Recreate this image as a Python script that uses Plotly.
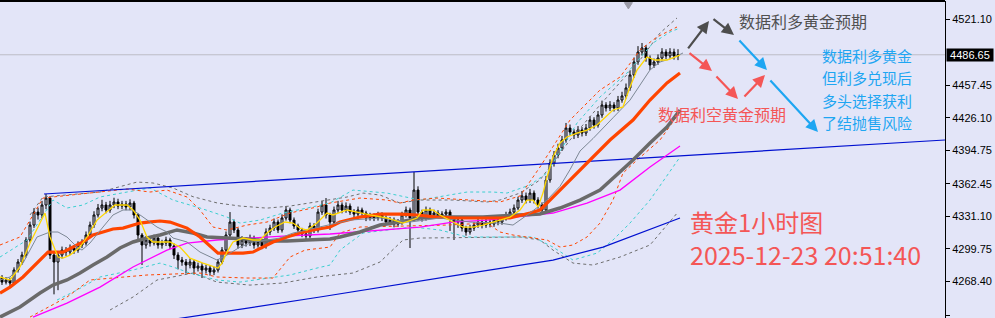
import plotly.graph_objects as go

# ---------------- data (hourly gold candles) ----------------
opens = [4272.0,4267.8,4269.8,4266.9,4279.4,4287.1,4293.8,4308.3,4322.7,4335.2,
         4332.4,4342.0,4348.7,4293.8,4287.1,4293.8,4298.6,4296.7,4300.6,4298.6,
         4303.5,4305.4,4313.1,4322.7,4332.4,4339.1,4342.0,4337.2,4342.0,4344.9,
         4341.0,4342.9,4340.1,4343.9,4332.4,4313.1,4303.5,4308.3,4305.4,4310.2,
         4303.5,4305.4,4308.3,4302.5,4293.8,4289.0,4287.1,4284.2,4287.1,4281.3,
         4283.2,4279.4,4281.3,4277.5,4279.4,4287.1,4298.6,4313.1,4325.6,4317.9,
         4303.5,4308.3,4305.4,4310.2,4303.5,4306.4,4302.5,4316.0,4319.8,4325.6,
         4317.9,4329.5,4337.2,4327.5,4321.8,4317.9,4314.1,4312.1,4321.8,4317.9,
         4335.2,4342.0,4332.4,4325.6,4337.2,4342.0,4337.2,4341.0,4335.2,4333.3,
         4337.2,4334.3,4329.5,4331.4,4329.5,4332.4,4329.5,4325.6,4327.5,4323.7,
         4325.6,4332.4,4337.2,4329.5,4356.4,4335.2,4329.5,4337.2,4332.4,4334.3,
         4331.4,4333.3,4335.2,4329.5,4325.6,4327.5,4319.8,4316.0,4319.8,4322.7,
         4325.6,4322.7,4325.6,4323.7,4327.5,4325.6,4329.5,4332.4,4335.2,4339.1,
         4346.8,4350.7,4346.8,4353.5,4346.8,4342.0,4337.2,4366.1,4382.4,4390.1,
         4396.9,4404.6,4416.1,4412.3,4409.4,4414.2,4411.3,4416.1,4423.8,4419.0,
         4428.7,4438.3,4435.4,4438.3,4435.4,4443.1,4447.0,4454.7,4467.2,4479.7,
         4489.3,4493.2,4483.5,4476.8,4479.7,4483.5,4489.3,4485.5,4489.3,4485.5]
closes = [4267.8,4269.8,4266.9,4279.4,4287.1,4293.8,4308.3,4322.7,4335.2,4332.4,
          4342.0,4348.7,4293.8,4287.1,4293.8,4298.6,4296.7,4300.6,4298.6,4303.5,
          4305.4,4313.1,4322.7,4332.4,4339.1,4342.0,4337.2,4342.0,4344.9,4341.0,
          4342.9,4340.1,4343.9,4332.4,4313.1,4303.5,4308.3,4305.4,4310.2,4303.5,
          4305.4,4308.3,4302.5,4293.8,4289.0,4287.1,4284.2,4287.1,4281.3,4283.2,
          4279.4,4281.3,4277.5,4279.4,4287.1,4298.6,4313.1,4325.6,4317.9,4303.5,
          4308.3,4305.4,4310.2,4303.5,4306.4,4302.5,4316.0,4319.8,4325.6,4317.9,
          4329.5,4337.2,4327.5,4321.8,4317.9,4314.1,4312.1,4321.8,4317.9,4335.2,
          4342.0,4332.4,4325.6,4337.2,4342.0,4337.2,4341.0,4335.2,4333.3,4337.2,
          4334.3,4329.5,4331.4,4329.5,4332.4,4329.5,4325.6,4327.5,4323.7,4325.6,
          4332.4,4337.2,4329.5,4356.4,4335.2,4329.5,4337.2,4332.4,4334.3,4331.4,
          4333.3,4335.2,4329.5,4325.6,4327.5,4319.8,4316.0,4319.8,4322.7,4325.6,
          4322.7,4325.6,4323.7,4327.5,4325.6,4329.5,4332.4,4335.2,4339.1,4346.8,
          4350.7,4346.8,4353.5,4346.8,4342.0,4337.2,4366.1,4382.4,4390.1,4396.9,
          4404.6,4416.1,4412.3,4409.4,4414.2,4411.3,4416.1,4423.8,4419.0,4428.7,
          4438.3,4435.4,4438.3,4435.4,4443.1,4447.0,4454.7,4467.2,4479.7,4489.3,
          4493.2,4483.5,4476.8,4479.7,4483.5,4489.3,4485.5,4489.3,4485.5,4486.65]
highs = [4274.5,4272.5,4272.0,4282.0,4290.0,4297.0,4311.0,4326.0,4339.0,4339.5,
         4346.0,4352.6,4350.5,4297.0,4297.0,4302.0,4301.5,4304.0,4303.5,4307.0,
         4309.0,4316.5,4326.0,4336.0,4343.0,4347.0,4345.0,4346.0,4349.0,4348.0,
         4346.0,4346.0,4347.5,4346.0,4334.0,4315.0,4312.0,4311.0,4313.5,4312.5,
         4308.5,4311.5,4310.5,4305.0,4296.5,4292.0,4290.0,4290.5,4289.5,4286.5,
         4286.0,4284.5,4284.0,4282.5,4290.0,4301.5,4316.5,4335.2,4328.0,4320.0,
         4312.0,4311.0,4313.5,4312.5,4309.5,4308.5,4319.5,4323.0,4329.0,4328.0,
         4333.0,4341.0,4339.5,4330.0,4324.0,4320.0,4317.0,4325.0,4324.5,4338.5,
         4346.0,4348.7,4334.5,4340.5,4346.0,4344.5,4344.5,4343.5,4338.0,4340.5,
         4339.5,4336.5,4334.5,4334.0,4335.5,4335.0,4332.0,4330.5,4330.0,4328.5,
         4335.5,4340.5,4339.5,4373.8,4360.0,4337.5,4340.5,4339.5,4337.5,4337.0,
         4336.0,4338.0,4337.5,4331.5,4330.5,4330.0,4322.0,4323.0,4325.5,4328.5,
         4328.0,4328.5,4328.0,4330.5,4330.0,4332.5,4335.5,4338.5,4342.5,4350.0,
         4355.5,4354.0,4357.5,4356.0,4349.5,4344.5,4370.0,4386.0,4394.0,4401.0,
         4408.5,4421.0,4419.5,4415.0,4418.0,4417.0,4420.0,4427.5,4426.5,4432.5,
         4442.5,4441.0,4442.0,4441.0,4447.0,4451.0,4459.0,4471.5,4484.0,4495.0,
         4498.0,4496.0,4486.0,4483.0,4487.0,4493.0,4492.0,4493.0,4492.5,4492.0]
lows = [4265.0,4265.5,4263.5,4265.0,4277.0,4284.5,4291.5,4306.0,4320.0,4328.0,
        4329.0,4338.0,4290.0,4256.0,4260.0,4290.5,4293.0,4294.0,4295.0,4296.0,
        4300.5,4303.0,4311.0,4320.0,4330.0,4336.0,4334.0,4334.5,4339.0,4338.0,
        4338.0,4337.0,4337.0,4329.0,4308.0,4284.2,4300.0,4302.0,4303.0,4300.0,
        4300.0,4302.5,4299.5,4290.0,4280.0,4283.5,4276.0,4281.0,4275.0,4278.0,
        4271.7,4276.0,4274.0,4274.5,4277.0,4285.0,4296.0,4311.0,4315.0,4300.0,
        4300.5,4302.0,4302.5,4300.0,4301.0,4299.5,4300.0,4313.0,4317.0,4315.0,
        4315.5,4327.0,4324.5,4319.0,4315.0,4311.0,4309.0,4310.0,4315.0,4315.5,
        4332.5,4329.0,4318.0,4323.0,4334.5,4334.0,4334.5,4332.5,4330.5,4331.0,
        4331.5,4326.5,4327.0,4326.5,4327.0,4326.5,4322.5,4322.5,4320.5,4321.0,
        4323.0,4330.0,4300.6,4327.0,4327.0,4326.0,4327.0,4329.5,4329.5,4328.5,
        4328.5,4330.5,4317.0,4308.3,4320.0,4316.5,4312.5,4313.5,4317.0,4320.0,
        4319.5,4320.0,4320.5,4321.0,4322.5,4323.0,4327.0,4330.0,4333.0,4337.0,
        4344.0,4343.5,4344.0,4343.5,4338.5,4333.5,4335.0,4363.5,4379.0,4387.0,
        4394.0,4402.0,4409.0,4405.5,4406.5,4408.0,4408.5,4413.5,4415.5,4416.5,
        4426.0,4432.0,4432.5,4432.0,4432.5,4440.5,4444.5,4452.0,4464.5,4477.0,
        4486.0,4480.0,4472.0,4474.0,4477.0,4481.0,4482.5,4483.0,4482.0,4481.5]
bars = list(range(len(closes)))
last_price = 4486.65

# fast MA (yellow)
ma_fast_x = [-0.5,2,4.5,7,9.5,10.75,12,14,15.25,17,19.5,21.25,23.75,26.25,28.25,31.25,32.75,34.5,36.25,37.75,
             40.25,42,44.5,47,50.25,54,55,56.25,57.75,60.25,62.75,64.5,66.25,68.25,70.75,72.75,74.5,76.25,78.75,81.25,
             82.75,86.25,88.75,92,96.25,100.25,103.75,105.25,107.75,109.5,112.75,115.25,117.75,120.25,124.5,127,129.5,131.25,132.75,134,
             135.25,136.25,137.75,139.5,141.25,143.75,146.25,148.75,152.75,155.25,157,158.75,161.25,163.25,166.25,167.75,169.5]
ma_fast_y = [4272.7,4269.8,4282.3,4305.4,4324.6,4334.3,4311.2,4291.9,4290.9,4293.8,4301.5,4311.2,4327.5,4335.2,4342.0,4342.0,4337.2,4327.5,4311.2,4306.4,
             4306.4,4306.4,4301.5,4290.9,4286.1,4281.3,4286.1,4296.7,4306.4,4310.2,4308.3,4308.3,4315.0,4320.8,4325.6,4324.6,4319.8,4317.9,4324.6,4334.3,
             4332.4,4337.2,4335.2,4332.4,4329.5,4324.6,4329.5,4337.2,4337.2,4332.4,4325.6,4320.8,4320.8,4322.7,4327.5,4330.4,4337.2,4346.8,4346.8,4340.1,
             4353.5,4369.0,4388.2,4401.7,4407.5,4411.3,4414.2,4419.0,4433.5,4436.4,4455.6,4472.0,4484.5,4481.6,4481.6,4483.6,4486.4]
# thin grey MA
ma_mid_x = [-0.5,2,5.25,8.75,12,14,16.25,18.75,20,22,25.25,27.75,30.25,32.75,35.25,38.75,41.25,42.75,46.25,49.5,
            53.75,56.25,59.5,62.75,66.25,69.5,72.75,76.25,79.5,82,87,94.5,102,109.5,117,124.5,127.75,132,136.25,139.5,
            142,144.5,147.75,152.75,157,159.5,162,164.5,167.75,170.25]
ma_mid_y = [4269.8,4272.7,4286.1,4311.2,4316.0,4316.0,4311.2,4301.5,4298.6,4305.4,4320.8,4332.4,4337.2,4337.2,4330.4,4320.8,4316.0,4310.2,4306.4,4296.7,
            4289.0,4293.8,4301.5,4306.4,4308.3,4310.2,4315.0,4317.9,4320.8,4322.7,4327.5,4329.5,4325.6,4329.5,4325.6,4324.6,4322.7,4334.3,4346.8,4360.0,
            4376.0,4394.0,4406.0,4426.0,4443.0,4457.5,4472.0,4479.7,4483.6,4488.4]
# thick orange-red MA
ma_red_x = [-0.5,2,5.25,7.75,10.25,11.5,15.25,17.75,20.25,22.75,25.25,27.75,30.25,32.75,34.5,36.5,39.5,42,46.25,49.5,
            52.75,54,57,60.25,62.75,65.25,67.75,71.25,74.5,77.75,82,84.5,89.5,94.5,99.5,103.75,108.75,113.75,118.75,124.5,
            127,132,134.5,137,139.5,142,144.5,147,149.5,152,157.75,162,166.25,169.5]
ma_red_y = [4257.2,4263.0,4272.7,4282.3,4291.9,4296.7,4296.7,4301.5,4306.4,4313.1,4316.0,4318.9,4319.8,4322.7,4324.6,4325.6,4326.6,4325.6,4319.8,4311.2,
            4300.6,4295.7,4295.7,4295.7,4296.7,4301.5,4306.4,4311.2,4315.0,4317.9,4320.8,4325.6,4330.4,4333.3,4333.3,4332.4,4330.4,4329.5,4329.5,4329.5,
            4329.5,4334.3,4337.2,4346.8,4356.4,4366.1,4375.7,4385.3,4395.0,4404.6,4423.8,4443.1,4459.5,4469.1]
# thick grey MA
ma_grey_x = [-0.5,4.5,9.5,12.75,16.25,19.5,22.75,26.25,29.5,32.75,36.25,39.5,43.75,47.75,51.25,56.25,61.25,66.25,71.25,76.25,
             82,84.5,89.5,94.5,99.5,104.5,109.5,114.5,120.25,124.5,129.5,134.5,139.5,144.5,149.5,157.75,162,166.25,169.5]
ma_grey_y = [4234.1,4243.8,4257.2,4264.9,4269.8,4276.5,4284.2,4291.9,4300.6,4306.4,4310.2,4313.1,4318.0,4315.0,4311.2,4310.2,4309.2,4307.3,4307.3,4308.3,
             4309.2,4311.2,4316.0,4322.7,4325.6,4329.5,4330.4,4330.4,4330.4,4331.4,4332.4,4333.3,4339.1,4346.8,4356.4,4385.3,4401.7,4417.1,4433.5]
# magenta MA
ma_pink_x = [7.75,16.25,24.5,32.75,41.25,46.25,53.75,61.25,70.25,82,96.25,104.5,112.75,121.25,126.25,133.75,137.75,146.25,154.5,162,169.5]
ma_pink_y = [4234.1,4247.6,4263.0,4282.3,4298.6,4305.4,4308.3,4310.2,4312.1,4314.1,4317.9,4320.8,4325.6,4327.5,4329.5,4332.4,4334.3,4343.9,4356.4,4378.6,4398.8]

# envelope bands (dashed)
band_red_up_x = [-0.5,4.5,10.25,24.5,31.25,37,41.25,46.25,49.5,52.75,56.25,61.25,66.25,72,78.75,82,89.5,96.25,99.5,102.75,
                 108.75,117,124.5,129.5,134.5,142,149.5,154.5,159.5,163.75,168.75]
band_red_up_y = [4303.5,4311.2,4348.7,4354.5,4357.4,4354.5,4356.4,4349.7,4337.2,4320.8,4317.9,4322.7,4325.6,4334.3,4340.1,4343.9,4348.7,4346.8,4343.9,4346.8,
                 4348.7,4346.8,4344.9,4350.7,4378.6,4423.8,4452.7,4465.2,4491.3,4503.8,4513.4]
band_cyan_up_x = [-0.5,6.25,12.75,16.25,20.25,24.5,31.25,37,42.75,49.5,56.25,59.5,64.5,70.25,76.25,82,87.75,96.25,104.5,116.25,
                  122.75,126.25,132,136.25,143.75,149.5,156.25,162.75,167,169.5]
band_cyan_up_y = [4291.9,4308.3,4346.8,4339.1,4342.0,4349.7,4354.5,4358.4,4346.8,4339.1,4330.4,4324.6,4327.5,4334.3,4339.1,4343.9,4356.4,4353.5,4346.8,4354.5,
                  4354.5,4353.5,4361.3,4372.8,4420.9,4446.0,4469.1,4498.0,4508.6,4512.4]
band_grey_up_x = [7,10.25,24.5,33.75,37.75,42.75,47.75,53.75,59.5,66.25,72,78.75,86.25,90.25,94.5,99.5,104.5,112.75,121.25,124.5,
                  129.5,134.5,142,149.5,152.75,159.5,164.5,168.75]
band_grey_up_y = [4332.4,4349.7,4354.5,4364.1,4363.2,4358.4,4350.0,4344.0,4341.0,4339.0,4341.0,4344.9,4349.7,4353.5,4351.6,4343.9,4346.8,4346.8,4344.9,4346.8,
                  4353.5,4366.1,4404.6,4438.3,4452.7,4481.6,4507.6,4522.1]
band_red_dn_x = [7,16.25,22,36.25,49.5,53.75,61.25,67.75,72,75.75,82,84.5,89.5,111.25,121.25,124.5,127.75,132.75,136.25,139.5,
                 142.75,146.25,149.5,152.75,155.25,158.75,164.5,169.5]
band_red_dn_y = [4234.1,4253.4,4269.8,4274.6,4276.5,4272.7,4271.7,4271.7,4291.9,4298.6,4301.5,4315.0,4320.8,4322.7,4324.6,4316.0,4313.1,4310.2,4308.3,4301.5,
                 4303.5,4311.2,4324.6,4346.8,4372.8,4385.3,4404.6,4431.6]
band_cyan_dn_x = [13.75,18.75,24.5,32.75,39.5,42.75,47,53.75,59.5,66.25,72,78.75,82,84.5,90.25,96.25,102.75,109.5,116.25,132.75,
                  137.75,142.75,148.75,152.75,157,162,169.5]
band_cyan_dn_y = [4250.5,4260.1,4272.7,4279.4,4286.1,4282.3,4276.5,4269.8,4267.8,4271.7,4274.6,4281.3,4284.2,4298.6,4315.0,4317.9,4320.8,4317.9,4311.2,4311.2,
                  4301.5,4289.0,4295.7,4308.3,4324.6,4346.8,4388.2]
band_grey_dn_x = [27,32.75,38.75,47.75,53.75,62,70.25,78.75,87.75,94.5,100.25,104.5,129.5,134.5,137.75,142.75,147.75,154.5,162,169]
band_grey_dn_y = [4240.9,4253.4,4269.8,4276.5,4267.8,4264.9,4266.9,4272.7,4276.5,4287.1,4308.3,4310.2,4311.2,4308.3,4298.6,4286.1,4284.2,4291.9,4303.5,4335.2]

# trend lines (blue)
trend_up_x = [10.5, 235.75]
trend_up_y = [4352.6, 4404.6]
trend_dn_x = [43, 79.5, 117, 137.75, 150.25, 159.5, 169.5]
trend_dn_y = [4232.0, 4253.4, 4276.5, 4289.0, 4301.5, 4315.0, 4329.5]

# axis ticks
tick_vals = [4521.10, 4457.45, 4426.10, 4394.75, 4362.45, 4331.10, 4299.75, 4268.40, 4236.10]
tick_text = ["%.2f" % v for v in tick_vals]

# annotation arrows: (head_x, head_y, tail_x, tail_y)
arrows_grey = [(176.75, 4519.2, 171.25, 4491.3), (183.0, 4505.7, 177.5, 4522.1)]
arrows_blue = [(191.25, 4472.0, 184.0, 4501.8), (204.0, 4412.3, 191.75, 4463.3)]
arrows_red = [(177.5, 4471.0, 171.5, 4489.3), (184.0, 4444.1, 178.25, 4467.2), (190.75, 4467.2, 185.25, 4445.0)]

blue_note = ["数据利多黄金", "但利多兑现后", "多头选择获利", "了结抛售风险"]
blue_note_y = [4485.5, 4464.3, 4443.1, 4421.9]

# ---------------- figure ----------------
BG = "#E3E5F8"
CJK = "Noto Sans CJK SC"

fig = go.Figure()
DASH = "3px,3px"

def add_line(x, y, color, width, dash=None):
    fig.add_trace(go.Scatter(x=x, y=y, mode="lines", hoverinfo="skip",
                             line=dict(color=color, width=width, dash=dash),
                             showlegend=False))

# bands
add_line(band_grey_up_x, band_grey_up_y, "#6E6E6E", 1, DASH)
add_line(band_grey_dn_x, band_grey_dn_y, "#6E6E6E", 1, DASH)
add_line(band_cyan_up_x, band_cyan_up_y, "#3CCFD0", 1, DASH)
add_line(band_cyan_dn_x, band_cyan_dn_y, "#3CCFD0", 1, DASH)
add_line(band_red_up_x, band_red_up_y, "#FF4500", 1, DASH)
add_line(band_red_dn_x, band_red_dn_y, "#FF4500", 1, DASH)

fig.add_trace(go.Candlestick(
    x=bars, open=opens, high=highs, low=lows, close=closes,
    increasing=dict(line=dict(color="#000000", width=1), fillcolor=BG),
    decreasing=dict(line=dict(color="#000000", width=1), fillcolor="#000000"),
    whiskerwidth=0, hoverinfo="skip", showlegend=False))

add_line(trend_up_x, trend_up_y, "#0010D0", 1.2)
add_line(trend_dn_x, trend_dn_y, "#0010D0", 1.2)
add_line(ma_pink_x, ma_pink_y, "#FF00FF", 1.3)
add_line(ma_grey_x, ma_grey_y, "#6A6A6A", 3.5)
add_line(ma_red_x, ma_red_y, "#FF4500", 3.2)
add_line(ma_mid_x, ma_mid_y, "#7D8895", 1)
add_line(ma_fast_x, ma_fast_y, "#FFD700", 1.3)

annotations = []
for group, col in ((arrows_grey, "#4D4D4D"), (arrows_blue, "#1EA6F2"), (arrows_red, "#F45656")):
    for hx, hy, tx, ty in group:
        annotations.append(dict(x=hx, y=hy, ax=tx, ay=ty, xref="x", yref="y", axref="x", ayref="y",
                                showarrow=True, arrowhead=2, arrowsize=1.1, arrowwidth=2.2,
                                arrowcolor=col, text=""))

def label(text, x, y, color, size):
    annotations.append(dict(text=text, x=x, y=y, xref="x", yref="y", xanchor="left",
                            yanchor="middle", showarrow=False, align="left",
                            font=dict(family=CJK, size=size, color=color)))

label("数据利多黄金预期", 183.75, 4518.7, "#505050", 16)
for t, yv in zip(blue_note, blue_note_y):
    label(t, 204.5, yv, "#1EA6F2", 15)
label("数据利空黄金预期", 163.5, 4429.6, "#F45656", 16)
label("黄金1小时图", 171.5, 4326.6, "#F45656", 24)
label("2025-12-23 20:51:40", 171.5, 4294.8, "#F45656", 25)

annotations.append(dict(text=" %.2f " % last_price, x=1, y=last_price, xref="paper", yref="y",
                        xanchor="left", yanchor="middle", xshift=1, showarrow=False,
                        bgcolor="#000000", borderpad=0,
                        font=dict(family="Liberation Sans", size=11, color="#FFFFFF")))

shapes = [
    dict(type="line", xref="paper", yref="y", x0=0, x1=1, y0=last_price, y1=last_price,
         line=dict(color="#BDBDC6", width=1), layer="below"),
    dict(type="line", xref="paper", yref="paper", x0=0, x1=1, y0=1, y1=1,
         line=dict(color="#000000", width=2)),
    dict(type="path", xref="x", yref="paper",
         path="M 155.6 0.995 L 157.6 0.995 L 156.6 0.975 Z",
         fillcolor="#9A9AA6", line=dict(color="#9A9AA6", width=1)),
]

fig.update_layout(
    width=995, height=318,
    margin=dict(l=0, r=50, t=1, b=0),
    paper_bgcolor=BG, plot_bgcolor=BG,
    showlegend=False, hovermode=False,
    annotations=annotations, shapes=shapes,
    xaxis=dict(range=[-0.5, 235.75], visible=False, rangeslider=dict(visible=False),
               showgrid=False, zeroline=False, fixedrange=True),
    yaxis=dict(range=[4233.21, 4538.43], side="right", showgrid=False, zeroline=False,
               showline=True, linecolor="#000000", linewidth=1,
               ticks="outside", ticklen=4, tickcolor="#000000",
               tickvals=tick_vals, ticktext=tick_text,
               tickfont=dict(family="Liberation Sans", size=11, color="#000000"),
               fixedrange=True),
)

fig.write_html("out.html")
